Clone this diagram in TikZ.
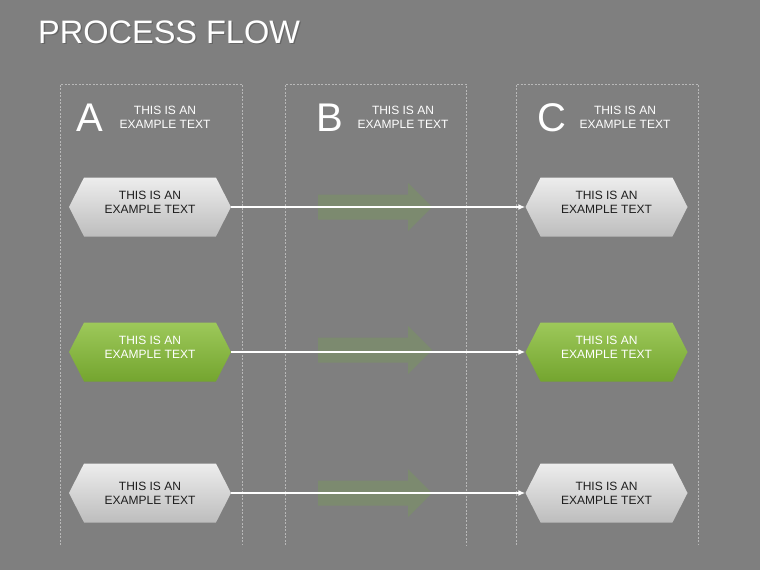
\documentclass[tikz,border=0pt]{standalone}
\usepackage{fontspec}
\setmainfont{Liberation Sans}
\usetikzlibrary{shapes.symbols,arrows.meta}
\definecolor{bg}{HTML}{7F7F7F}
\definecolor{colline}{HTML}{B8B8B8}
\definecolor{hexgreyT}{HTML}{EDEDED}
\definecolor{hexgreyB}{HTML}{BDBDBD}
\definecolor{hexgreenT}{HTML}{9DC85A}
\definecolor{hexgreenB}{HTML}{74A52F}
\definecolor{fadearrow}{HTML}{7C8A6F}
\definecolor{darktxt}{HTML}{1E1E1E}
\tikzset{
  hexbase/.style={signal, signal to=east and west, signal pointer angle=126,
    minimum width=162pt, minimum height=59pt, inner sep=0pt, align=center,
    font=\fontsize{12}{14}\selectfont},
  hexgrey/.style={hexbase, top color=hexgreyT, bottom color=hexgreyB, draw=none, text=darktxt},
  hexgreen/.style={hexbase, top color=hexgreenT, bottom color=hexgreenB, draw=none, text=white},
  colbox/.style={draw=colline, dash pattern=on 2pt off 1.5pt, line width=0.5pt},
  bigletter/.style={text=white, font=\fontsize{40}{40}\selectfont, inner sep=0pt},
  headtxt/.style={text=white, align=center, font=\fontsize{12}{14}\selectfont, inner sep=0pt},
  flowline/.style={draw=white, line width=2pt, -{Latex[length=7pt,width=6pt]}},
  ghost/.style={fill=fadearrow, draw=none}
}
\begin{document}
\begin{tikzpicture}[x=1pt,y=-1pt]
\fill[bg] (0,0) rectangle (760,570);
\useasboundingbox (0,0) rectangle (760,570);
% title
\node[anchor=west, text=black!60, font=\fontsize{32.5}{33}\selectfont, inner sep=0pt] at (39.3,33.3) {PROCESS FLOW};
\node[anchor=west, text=white, font=\fontsize{32.5}{33}\selectfont, inner sep=0pt] (title) at (38,32) {PROCESS FLOW};
% columns
\foreach \xl/\xr in {60/242, 285/466, 516/698}{
  \draw[colbox] (\xl,545) -- (\xl,84) -- (\xr,84) -- (\xr,545);
}
% column headers
\node[bigletter] (la) at (90,118) {A};
\node[headtxt] (ha) at (165,117) {THIS IS AN\\EXAMPLE TEXT};
\node[bigletter] (lb) at (330,118) {B};
\node[headtxt] (hb) at (403,117) {THIS IS AN\\EXAMPLE TEXT};
\node[bigletter] (lc) at (552,118) {C};
\node[headtxt] (hc) at (625,117) {THIS IS AN\\EXAMPLE TEXT};
% ghost arrows
\foreach \yy in {207,350,493}{
  \fill[ghost] (318,\yy-12.5) -- (408,\yy-12.5) -- (408,\yy-24) -- (432,\yy)
    -- (408,\yy+24) -- (408,\yy+12.5) -- (318,\yy+12.5) -- cycle;
}
% hexagons
\node[hexgrey] (a1) at (150,207) {THIS IS AN\\EXAMPLE TEXT\\[-5pt]};
\node[hexgreen] (a2) at (150,352) {THIS IS AN\\EXAMPLE TEXT\\[-5pt]};
\node[hexgrey] (a3) at (150,493) {THIS IS AN\\EXAMPLE TEXT};
\node[hexgrey] (c1) at (606.5,207) {THIS IS AN\\EXAMPLE TEXT\\[-4pt]};
\node[hexgreen] (c2) at (606.5,352) {THIS IS AN\\EXAMPLE TEXT\\[-5pt]};
\node[hexgrey] (c3) at (606.5,493) {THIS IS AN\\EXAMPLE TEXT};
% connectors
\draw[flowline] (a1.east) -- (c1.west);
\draw[flowline] (a2.east) -- (c2.west);
\draw[flowline] (a3.east) -- (c3.west);
\end{tikzpicture}
\end{document}
